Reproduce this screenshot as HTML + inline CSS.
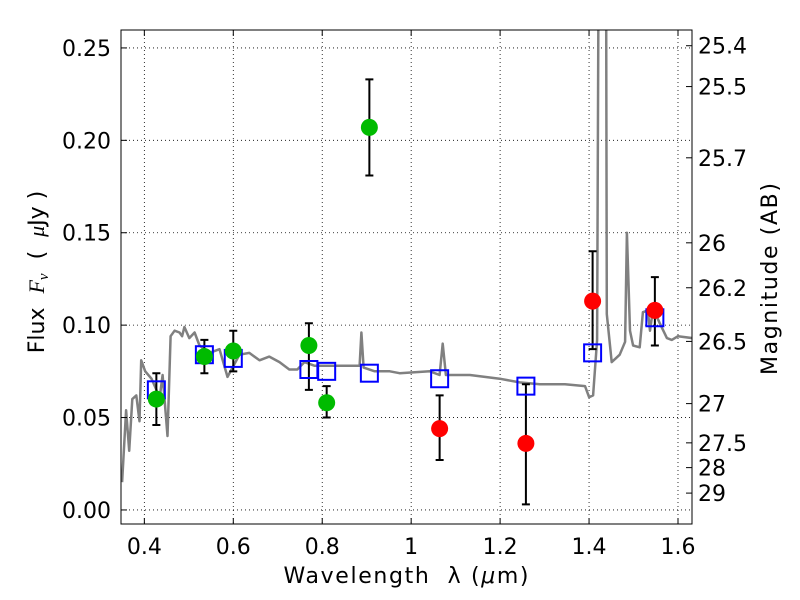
<!DOCTYPE html>
<html><head><meta charset="utf-8"><style>
html,body{margin:0;padding:0;background:#fff}
svg{display:block;font-family:"DejaVu Sans","Liberation Sans",sans-serif}
</style></head><body>
<svg id="chart" width="800" height="600" viewBox="0 0 800 600" xmlns="http://www.w3.org/2000/svg">
<defs><clipPath id="clip"><rect x="121" y="30" width="571" height="494"/></clipPath></defs>
<rect x="0" y="0" width="800" height="600" fill="#fff"/>
<g id="grid"></g>
<g id="spec" clip-path="url(#clip)"></g>
<g id="marks" clip-path="url(#clip)"></g>
<rect x="121" y="30" width="571" height="494" fill="none" stroke="#000" stroke-width="1"/>
<g id="axes"></g>
<text xml:space="preserve" x="406" y="583" font-size="22" text-anchor="middle" textLength="245" lengthAdjust="spacing">Wavelength  λ (<tspan font-style="italic">μ</tspan>m)</text>
<text xml:space="preserve" transform="translate(44,272) rotate(-90)" font-size="22" text-anchor="middle">Flux  <tspan font-style="italic" font-family="Liberation Serif, serif">F<tspan font-size="15" dy="4">ν</tspan></tspan><tspan dy="-4">  (  </tspan><tspan font-style="italic" font-family="Liberation Serif, serif">μ</tspan>Jy )</text>
<text transform="translate(777,279) rotate(-90)" font-size="22" text-anchor="middle" textLength="192" lengthAdjust="spacing">Magnitude (AB)</text>
</svg>
<script>
const xTicks=[0.4,0.6,0.8,1.0,1.2,1.4,1.6];
const xTickLabels=["0.4","0.6","0.8","1","1.2","1.4","1.6"];
const yTicks=[0,0.05,0.10,0.15,0.20,0.25];
const yTickLabels=["0.00","0.05","0.10","0.15","0.20","0.25"];
const magTicks=[25.4,25.5,25.7,26,26.2,26.5,27,27.5,28,29];
const magLabels=["25.4","25.5","25.7","26","26.2","26.5","27","27.5","28","29"];
const specWave=[0.35,0.359,0.366,0.373,0.382,0.389,0.393,0.402,0.416,0.427,0.434,0.441,0.452,0.459,0.468,0.479,0.485,0.490,0.501,0.513,0.524,0.546,0.569,0.587,0.614,0.636,0.659,0.681,0.704,0.726,0.744,0.760,0.783,0.816,0.839,0.884,0.888,0.893,0.918,0.952,0.974,1.042,1.064,1.071,1.078,1.098,1.132,1.199,1.244,1.289,1.346,1.391,1.400,1.409,1.418,1.424,1.427,1.437,1.440,1.451,1.460,1.469,1.481,1.485,1.492,1.499,1.514,1.521,1.532,1.537,1.544,1.559,1.575,1.586,1.600,1.632];
const specFlux=[0.015,0.054,0.032,0.060,0.062,0.048,0.081,0.075,0.071,0.065,0.060,0.073,0.040,0.094,0.097,0.096,0.094,0.099,0.093,0.096,0.089,0.085,0.087,0.072,0.084,0.085,0.081,0.083,0.080,0.076,0.076,0.080,0.078,0.078,0.078,0.078,0.096,0.077,0.075,0.075,0.074,0.075,0.073,0.090,0.073,0.073,0.073,0.071,0.069,0.068,0.068,0.067,0.061,0.062,0.092,0.45,0.45,0.45,0.106,0.080,0.082,0.084,0.091,0.150,0.097,0.089,0.088,0.107,0.108,0.097,0.109,0.101,0.093,0.092,0.094,0.093];
const greenWave=[0.427,0.535,0.60,0.77,0.81,0.906];
const greenFlux=[0.060,0.083,0.086,0.089,0.058,0.207];
const greenHi=[0.074,0.092,0.097,0.101,0.067,0.233];
const greenLo=[0.046,0.074,0.075,0.065,0.050,0.181];
const redWave=[1.064,1.258,1.408,1.548];
const redFlux=[0.044,0.036,0.113,0.108];
const redHi=[0.062,0.068,0.140,0.126];
const redLo=[0.027,0.003,0.087,0.089];
const modelWave=[0.427,0.535,0.60,0.77,0.81,0.906,1.064,1.258,1.408,1.548];
const modelFlux=[0.065,0.084,0.082,0.076,0.075,0.074,0.071,0.067,0.085,0.104];

const NS="http://www.w3.org/2000/svg";
const X0=121,X1=692,Y0=524,Y1=30;
const xmin=0.3475,xmax=1.6315,ymin=-0.0076,ymax=0.2597;
function sx(v){return X0+(v-xmin)/(xmax-xmin)*(X1-X0);}
function sy(v){return Y0-(v-ymin)/(ymax-ymin)*(Y0-Y1);}
function mk(tag,attrs,parent){const e=document.createElementNS(NS,tag);for(const k in attrs)e.setAttribute(k,attrs[k]);parent.appendChild(e);return e;}
const grid=document.getElementById('grid'),axes=document.getElementById('axes'),spec=document.getElementById('spec'),marks=document.getElementById('marks');

xTicks.forEach((t,i)=>{const x=sx(t);
 const g=mk('line',{x1:x,x2:x,y1:Y1,y2:Y0,stroke:'#000','stroke-width':0.8,'stroke-dasharray':'1,3'},grid);
 
 mk('line',{x1:x,x2:x,y1:Y0,y2:Y0-6,stroke:'#000'},axes);
 mk('line',{x1:x,x2:x,y1:Y1,y2:Y1+6,stroke:'#000'},axes);
 const tx=mk('text',{x:x,y:554,'font-size':22,'text-anchor':'middle'},axes);tx.textContent=xTickLabels[i];
 
});
yTicks.forEach((t,i)=>{const y=sy(t);
 const g=mk('line',{x1:X0,x2:X1,y1:y,y2:y,stroke:'#000','stroke-width':0.8,'stroke-dasharray':'1,3'},grid);
 
 mk('line',{x1:X0,x2:X0+6,y1:y,y2:y,stroke:'#000'},axes);
 const tx=mk('text',{x:111,y:y+8,'font-size':22,'text-anchor':'end'},axes);tx.textContent=yTickLabels[i];
 
});
magTicks.forEach((m,i)=>{const f=Math.pow(10,(23.9-m)/2.5);const y=sy(f);
 mk('line',{x1:X1-6,x2:X1,y1:y,y2:y,stroke:'#000'},axes);
 const tx=mk('text',{x:698,y:y+8,'font-size':22},axes);tx.textContent=magLabels[i];
 
});
let d='';specWave.forEach((w,i)=>{d+=(i?'L':'M')+sx(w).toFixed(1)+','+sy(specFlux[i]).toFixed(1);});
const sp=mk('path',{d:d,fill:'none',stroke:'#808080','stroke-width':2.5,'stroke-linejoin':'round'},spec);


function errbar(w,lo,hi){const x=sx(w);
 const e=mk('path',{d:`M${x},${sy(lo)}V${sy(hi)}M${x-4},${sy(lo)}h8M${x-4},${sy(hi)}h8`,stroke:'#000','stroke-width':2,fill:'none'},marks);
 }
greenWave.forEach((w,i)=>errbar(w,greenLo[i],greenHi[i]));
redWave.forEach((w,i)=>errbar(w,redLo[i],redHi[i]));
modelWave.forEach((w,i)=>{
 const r=mk('rect',{x:sx(w)-8.5,y:sy(modelFlux[i])-8.5,width:17,height:17,fill:'none',stroke:'#0000ff','stroke-width':2},marks);
 });
greenWave.forEach((w,i)=>{
 const c=mk('circle',{cx:sx(w),cy:sy(greenFlux[i]),r:8.5,fill:'#00bb00'},marks);
 });
redWave.forEach((w,i)=>{
 const c=mk('circle',{cx:sx(w),cy:sy(redFlux[i]),r:8.5,fill:'#ff0000'},marks);
 });
</script>
</body></html>
